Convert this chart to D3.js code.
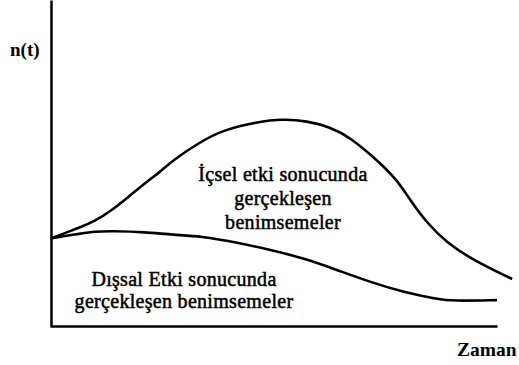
<!DOCTYPE html>
<html>
<head>
<meta charset="utf-8">
<script src="https://cdn.jsdelivr.net/npm/d3@7"></script>
<style>
  html, body { margin: 0; padding: 0; background: #fff; }
  svg { display: block; }
  text { font-family: "Liberation Serif", "Times New Roman", serif; fill: #000; }
</style>
</head>
<body>
<svg id="chart" width="519" height="365"></svg>
<script>
// Time (arbitrary units) and adoption rate n(t) for each diffusion component
const timeInternal = [0, 3.1, 6.1, 9.9, 13.7, 17.3, 21.1, 24.9, 27.4, 33.4, 38.6, 46.2, 52.0, 57.4, 62.6, 67.0, 73.1, 77.6, 80.5, 84.3, 88.8, 94.6, 103.4];
const adoptInternal = [27.0, 28.7, 30.2, 32.4, 35.8, 39.8, 44.1, 48.1, 51.2, 56.8, 60.5, 63.0, 63.9, 63.3, 61.4, 58.3, 51.2, 45.1, 38.9, 31.8, 25.6, 20.4, 14.5];

const timeExternal = [0, 3.1, 6.1, 9.9, 13.7, 21.1, 27.4, 33.4, 42.4, 49.1, 56.5, 64.1, 71.5, 78.9, 86.5, 90.1, 100];
const adoptExternal = [27.0, 27.8, 28.4, 29.2, 29.3, 29.0, 28.1, 27.8, 25.6, 23.5, 21.0, 17.3, 13.6, 10.5, 8.3, 7.7, 8.0];

const axisLabels = { y: "n(t)", x: "Zaman" };
const internalLabel = ["İçsel etki sonucunda", "gerçekleşen", "benimsemeler"];
const externalLabel = ["Dışsal Etki sonucunda", "gerçekleşen benimsemeler"];

const svg = d3.select("#chart");

const x = d3.scaleLinear().domain([0, 100]).range([51, 497]);
const y = d3.scaleLinear().domain([0, 100]).range([326, 2]);

// Bare axes: domain lines only, no ticks
svg.append("g")
  .attr("transform", `translate(0,${y(0)})`)
  .call(d3.axisBottom(x).ticks(0).tickSize(0).tickSizeOuter(0))
  .call(g => g.select(".domain").attr("stroke", "#000").attr("stroke-width", 2.5));

svg.append("g")
  .attr("transform", `translate(${x(0)},0)`)
  .call(d3.axisLeft(d3.scaleLinear().domain([0, 100]).range([327, 0])).ticks(0).tickSize(0).tickSizeOuter(0))
  .call(g => g.select(".domain").attr("stroke", "#000").attr("stroke-width", 2.5));

const line = d3.line()
  .x(d => x(d[0]))
  .y(d => y(d[1]))
  .curve(d3.curveBasis);

svg.append("path")
  .datum(d3.zip(timeInternal, adoptInternal))
  .attr("d", line)
  .attr("fill", "none")
  .attr("stroke", "#000")
  .attr("stroke-width", 2.6);

svg.append("path")
  .datum(d3.zip(timeExternal, adoptExternal))
  .attr("d", line)
  .attr("fill", "none")
  .attr("stroke", "#000")
  .attr("stroke-width", 2.6);

// Axis titles
svg.append("text")
  .attr("x", 10).attr("y", 56)
  .attr("font-size", 19).attr("font-weight", "bold")
  .text(axisLabels.y);

svg.append("text")
  .attr("x", 457).attr("y", 356)
  .attr("font-size", 19.5).attr("font-weight", "bold")
  .text(axisLabels.x);

// Curve annotations
const labelStyle = t => t
  .attr("text-anchor", "middle")
  .attr("font-size", 20)
  .attr("letter-spacing", 0.3)
  .attr("stroke", "#000")
  .attr("stroke-width", 0.5);

const inner = svg.append("text").call(labelStyle);
internalLabel.forEach((s, i) => {
  inner.append("tspan").attr("x", 283).attr("y", 181 + i * 24).text(s);
});

const outer = svg.append("text").call(labelStyle);
externalLabel.forEach((s, i) => {
  outer.append("tspan").attr("x", 184).attr("y", 286 + i * 22).text(s);
});
</script>
</body>
</html>
